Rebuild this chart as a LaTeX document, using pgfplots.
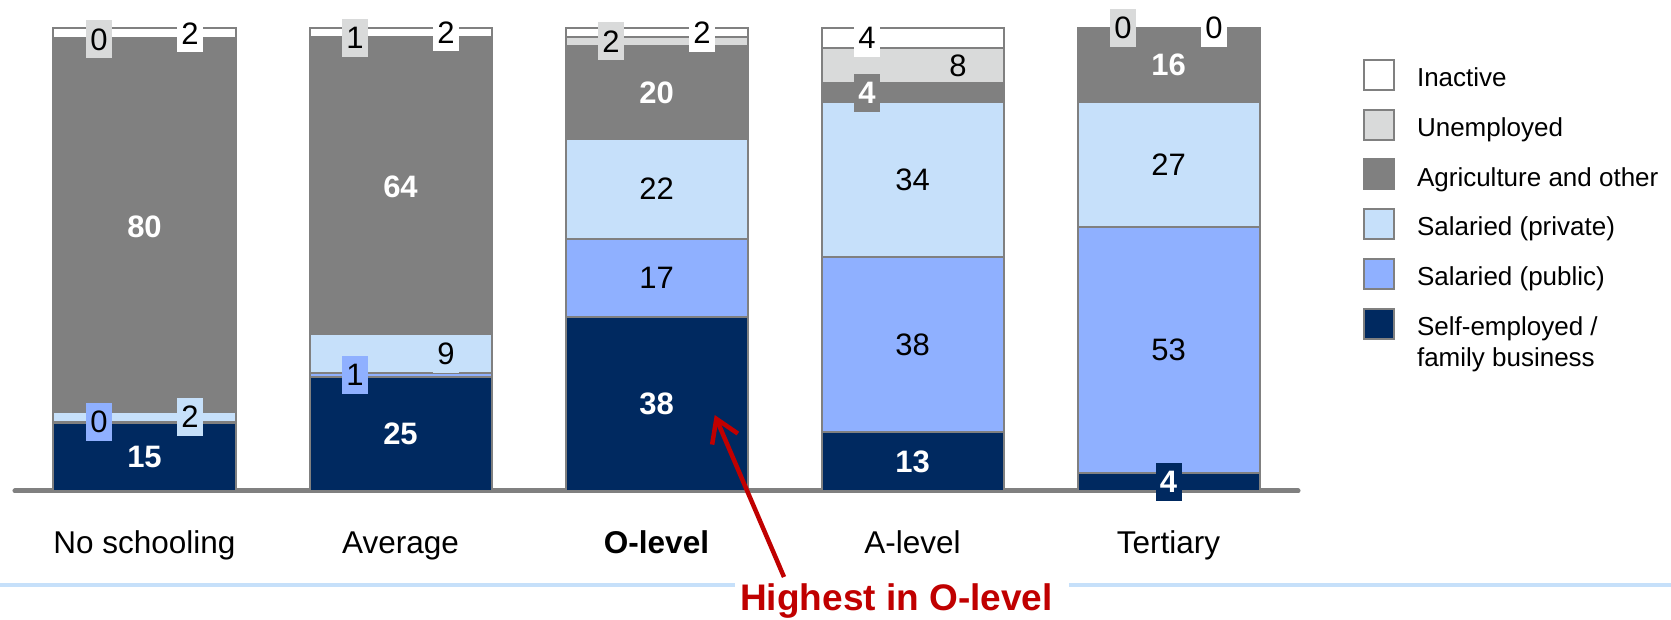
\documentclass[border=0pt]{standalone}
\usepackage{fontspec}
\setmainfont{Liberation Sans}
\usepackage{pgfplots}
\usepackage{pgfplotstable}
\pgfplotsset{compat=1.18}
\usetikzlibrary{arrows.meta}

\definecolor{selfemp}{RGB}{0,41,96}
\definecolor{public}{RGB}{143,176,255}
\definecolor{private}{RGB}{198,224,250}
\definecolor{agri}{RGB}{128,128,128}
\definecolor{unemp}{RGB}{217,218,218}
\definecolor{inact}{RGB}{255,255,255}
\definecolor{edge}{RGB}{128,128,128}
\definecolor{axisline}{RGB}{128,128,128}
\definecolor{callout}{RGB}{192,0,0}
\definecolor{rulecol}{RGB}{198,224,250}

% Employment status by education level (% of each group)
\pgfplotstableread{
x  se    pub   pri   agr   une  ina
0  14.8  0.2   2.0   80.4  0.4  2.2
1  24.6  0.8   8.6   63.6  0.6  1.8
2  37.6  16.9  21.6  20.1  1.9  1.9
3  12.7  37.8  33.6  4.0   7.6  4.3
4  3.8   53.3  27.0  15.9  0.0  0.0
}\shares

\newcommand\valfont{\fontsize{31pt}{31pt}\selectfont}
% 1 for the A-level column (x = 3), 0 elsewhere
\newcommand\isA{((\thisrow{x}>2.5)*(\thisrow{x}<3.5))}
% height of the unemployed-share label: centre of its segment
\newcommand\uneY{\thisrow{se}+\thisrow{pub}+\thisrow{pri}+\thisrow{agr}+0.5*\thisrow{une}}

\pgfplotsset{
  frame/.style={
    at={(0pt,0pt)}, anchor=south west,
    x=256pt, y=4.627pt,
    xmin=-0.56445, xmax=5.96289,
    ymin=-27.664, ymax=106.116,
    enlargelimits=false, clip=false,
  },
  % legend swatch, sitting a little above the middle of its entry text
  sq/.style={legend image code/.code={
      \path[draw=none, fill=none] (0pt,-18pt) rectangle (30pt,18pt);
      \draw[##1, line width=2pt, draw=edge] (0pt,-12pt) rectangle (30pt,18pt);}},
  seg/.style={fill=#1, draw=edge, line width=2pt, sq},
  vals/.style={
    draw=none,
    nodes near coords={\pgfmathprintnumber[fixed,precision=0]{\pgfplotspointmeta}},
    point meta=explicit,
    every node near coord/.append style={anchor=center, inner sep=0pt,
      minimum width=26pt, minimum height=38pt, font=\valfont, #1},
  },
}

\begin{document}
\begin{tikzpicture}
\begin{axis}[frame, ybar stacked, bar width=182pt,
  axis line style={draw=none}, tick style={draw=none},
  ytick=\empty, xtick={0,...,4},
  xticklabels={No schooling, Average, \textbf{O-level}, A-level, Tertiary},
  xticklabel style={font=\fontsize{31.5pt}{31.5pt}\selectfont, anchor=base, yshift=66pt},
  reverse legend,
  legend style={draw=none, fill=none, inner sep=0pt, outer sep=0pt,
    at={(0.8157,0.9053)}, anchor=north west,
    font=\fontsize{26pt}{31pt}\selectfont,
    row sep=12.9pt, column sep=22pt,
    nodes={inner sep=0pt}},
  legend cell align=left,
]
\addplot[seg=selfemp] table[x=x, y=se]{\shares};
\addlegendentry{\rlap{\smash{\raisebox{-31pt}{family business}}}Self-employed /}
\addplot[seg=public] table[x=x, y=pub]{\shares};
\addlegendentry{Salaried (public)}
\addplot[seg=private] table[x=x, y=pri]{\shares};
\addlegendentry{Salaried (private)}
\addplot[seg=agri] table[x=x, y=agr]{\shares};
\addlegendentry{Agriculture and other}
\addplot[seg=unemp] table[x=x, y=une]{\shares};
\addlegendentry{Unemployed}
\addplot[seg=inact] table[x=x, y=ina]{\shares};
\addlegendentry{Inactive}
\draw[line width=5pt, axisline, line cap=round] (axis cs:-0.506,0) -- (axis cs:4.506,0);
\end{axis}

% value labels, centred in their segments or set beside them in small boxes
\begin{axis}[frame, hide axis, /pgf/number format/assume math mode=true]
\addplot[vals={fill=selfemp, text=white, font=\valfont\bfseries}]
  table[x=x, y expr=0.5*\thisrow{se}, meta=se]{\shares};
\addplot[vals={fill=public}]
  table[x expr=\thisrow{x}-0.178*(\thisrow{x}<2),
        y expr=\thisrow{se}+0.5*\thisrow{pub}, meta=pub]{\shares};
\addplot[vals={fill=private}]
  table[x expr=\thisrow{x}+0.178*(\thisrow{x}<2),
        y expr=\thisrow{se}+\thisrow{pub}+0.5*\thisrow{pri}, meta=pri]{\shares};
\addplot[vals={fill=agri, text=white, font=\valfont\bfseries}]
  table[x expr=\thisrow{x}-0.178*\isA,
        y expr=\thisrow{se}+\thisrow{pub}+\thisrow{pri}+0.5*\thisrow{agr}, meta=agr]{\shares};
% unemployed: boxed on the left, except A-level (inside its segment, on the right)
\addplot[vals={fill=unemp}, skip coords between index={3}{4}]
  table[x expr=\thisrow{x}-0.178, y expr=\uneY, meta=une]{\shares};
\addplot[vals={}, skip coords between index={0}{3}, skip coords between index={4}{5}]
  table[x expr=\thisrow{x}+0.178, y expr=\uneY, meta=une]{\shares};
\addplot[vals={fill=unemp}, skip coords between index={0}{4}]
  table[x expr=\thisrow{x}-0.178, y expr=\uneY, meta=une]{\shares};
\addplot[vals={fill=inact}]
  table[x expr=\thisrow{x}+0.178-0.356*\isA,
        y expr=\thisrow{se}+\thisrow{pub}+\thisrow{pri}+\thisrow{agr}+\thisrow{une}+0.5*\thisrow{ina}, meta=ina]{\shares};
\end{axis}

% rule under the category names, broken around the call-out
\fill[rulecol] (0pt,31.7pt) rectangle (735pt,36.3pt);
\fill[rulecol] (1069pt,31.7pt) rectangle (1671pt,36.3pt);
\node[anchor=base, text=callout, font=\fontsize{37pt}{37pt}\selectfont\bfseries, inner sep=0pt]
  at (896.5pt,8.5pt) {Highest in O-level};
\draw[callout, line width=4.5pt, -{Straight Barb[length=22pt,width=28pt]}]
  (784pt,42pt) -- (714.7pt,204pt);

\pgfresetboundingbox
\path[use as bounding box] (0pt,0pt) rectangle (1671pt,619pt);
\end{tikzpicture}
\end{document}
